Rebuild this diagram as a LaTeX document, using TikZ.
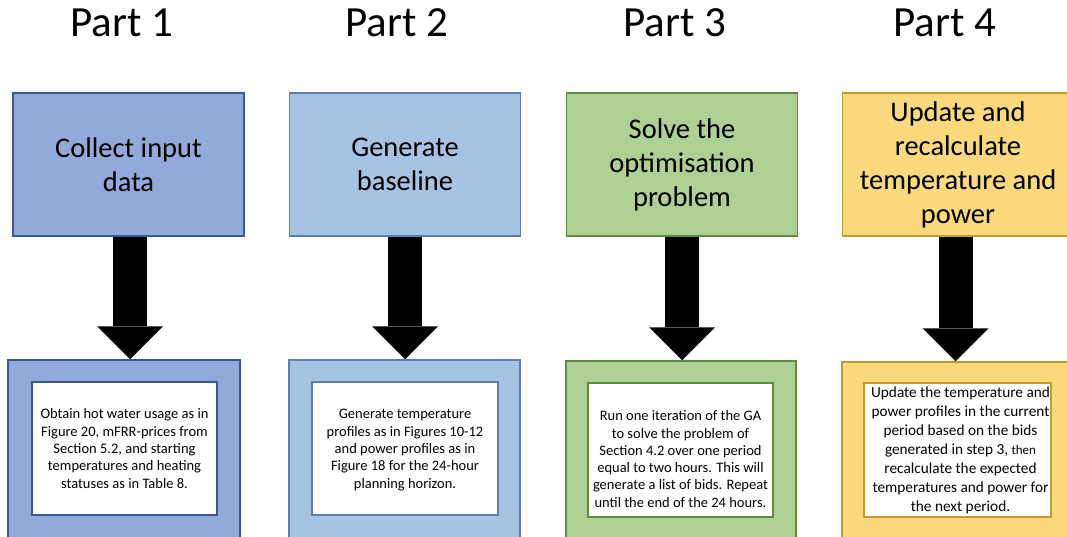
\documentclass[tikz,border=0pt]{standalone}
\usepackage{fontspec}
\setmainfont{Carlito}
\usetikzlibrary{arrows.meta}

\definecolor{fillA}{HTML}{93A9D9}
\definecolor{lineA}{HTML}{3A5896}
\definecolor{fillB}{HTML}{A7C3E3}
\definecolor{lineB}{HTML}{5B7FAE}
\definecolor{fillC}{HTML}{AFD095}
\definecolor{lineC}{HTML}{5F8A42}
\definecolor{fillD}{HTML}{F9D97C}
\definecolor{lineD}{HTML}{C19A2E}

\tikzset{
  parttitle/.style={anchor=base, font=\fontsize{43}{50}\selectfont},
  stagebox/.style={rectangle, line width=1.5pt, minimum width=231pt,
    minimum height=143pt, inner sep=0pt, align=center,
    font=\fontsize{28.5}{34}\selectfont},
  detailframe/.style={rectangle, line width=1.5pt, minimum width=231pt,
    minimum height=200pt, inner sep=0pt},
  detailbox/.style={rectangle, fill=white, line width=2pt, inner sep=0pt,
    minimum height=133pt},
  detailtext/.style={align=center, inner sep=0pt,
    font=\fontsize{14.5}{17.3}\selectfont},
  bigarrow/.style={line width=34pt, black,
    -{Triangle[width=66pt, length=33pt, line width=0pt]}},
}

\begin{document}
\begin{tikzpicture}[x=1pt, y=-1pt]
\useasboundingbox (0,0) rectangle (1067,537);
\clip (0,0) rectangle (1067,537);

% column headings
\node[parttitle] (h1) at (122,37) {Part 1};
\node[parttitle] (h2) at (397,37) {Part 2};
\node[parttitle] (h3) at (675,37) {Part 3};
\node[parttitle] (h4) at (945,37) {Part 4};

% stage boxes
\node[stagebox, fill=fillA, draw=lineA] (t1) at (128.5,164.5) {Collect input\\data};
\node[stagebox, fill=fillB, draw=lineB] (t2) at (405,164.5) {Generate\\baseline};
\node[stagebox, fill=fillC, draw=lineC] (t3) at (682,164.5) {Solve the\\optimisation\\problem};
\node[stagebox, fill=fillD, draw=lineD] (t4) at (958,164.5) {Update and\\recalculate\\temperature and\\power};

% detail frames
\node[detailframe, fill=fillA, draw=lineA, minimum width=232pt] (b1) at (124,460) {};
\node[detailframe, fill=fillB, draw=lineB] (b2) at (404.5,460) {};
\node[detailframe, fill=fillC, draw=lineC, minimum width=230pt] (b3) at (681,461) {};
\node[detailframe, fill=fillD, draw=lineD] (b4) at (957.5,462) {};

% white detail boxes
\node[detailbox, draw=lineA, minimum width=185pt] (i1) at (124.5,448.5) {};
\node[detailbox, draw=lineB, minimum width=186pt] (i2) at (405,448.5) {};
\node[detailbox, draw=lineC, minimum width=185pt, minimum height=134pt] (i3) at (680.5,450) {};
\node[detailbox, draw=lineD, minimum width=187pt, minimum height=134pt] (i4) at (957.5,450) {};

% detail texts
\node[detailtext] (x1) at (i1.center) {Obtain hot water usage as in\\Figure 20, mFRR-prices from\\Section 5.2, and starting\\temperatures and heating\\statuses as in Table 8.};
\node[detailtext] (x2) at ([yshift=-1.5pt]i2.center) {Generate temperature\\profiles as in Figures 10-12\\and power profiles as in\\Figure 18 for the 24-hour\\planning horizon.};
\node[detailtext] (x3) at ([yshift=-9pt]i3.center) {Run one iteration of the GA\\to solve the problem of\\Section 4.2 over one period\\equal to two hours. This will\\generate a list of bids. Repeat\\until the end of the 24 hours.};
\node[detailtext, font=\fontsize{15.3}{19}\selectfont] (x4) at ([xshift=3pt]i4.center) {Update the temperature and\\power profiles in the current\\period based on the bids\\generated in step 3, {\fontsize{13}{19}\selectfont then}\\recalculate the expected\\temperatures and power for\\the next period.};

% arrows from each stage to its details
\draw[bigarrow] ([xshift=1.5pt]t1.south) -- ([xshift=1.5pt]t1.south |- b1.north);
\draw[bigarrow] (t2.south) -- (t2.south |- b2.north);
\draw[bigarrow] (t3.south) -- (t3.south |- b3.north);
\draw[bigarrow] ([xshift=-2.5pt]t4.south) -- ([xshift=-2.5pt]t4.south |- b4.north);
\end{tikzpicture}
\end{document}
